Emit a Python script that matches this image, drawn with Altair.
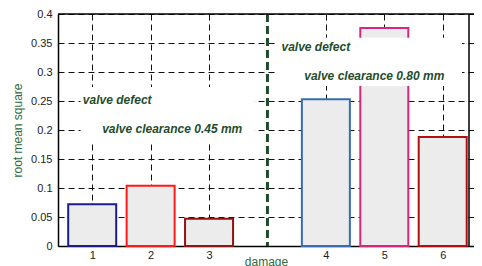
import altair as alt
import pandas as pd

# data
positions = [1, 2, 3, 5, 6, 7]
damage_labels = ["1", "2", "3", "4", "5", "6"]
rms = [0.072, 0.104, 0.047, 0.253, 0.376, 0.188]
stroke_colors = ["#1c1c8c", "#ff1a1a", "#8f1515", "#3a6cb5", "#d8267f", "#b01010"]
separator_pos = [4]
x_domain = [0.5, 7.45]
top_edge = [0.4]
y_ticks = [0, 0.05, 0.1, 0.15, 0.2, 0.25, 0.3, 0.35, 0.4]

ann_text = ["valve defect", "valve clearance  0.45 mm", "valve defect", "valve clearance  0.80 mm"]
ann_x = [0.84, 1.17, 4.24, 4.63]
ann_y = [0.252, 0.202, 0.343, 0.293]

box_x = [0.8, 4.13]
box_x2 = [3.78, 7.33]
box_y = [0.178, 0.276]
box_y2 = [0.274, 0.359]

bars = pd.DataFrame({"pos": positions, "label": damage_labels, "rms": rms, "color": stroke_colors})
sep = pd.DataFrame({"x": separator_pos})
top = pd.DataFrame({"y": top_edge})
right = pd.DataFrame({"x": [x_domain[1]]})
ann = pd.DataFrame({"text": ann_text, "x": ann_x, "y": ann_y})
boxes = pd.DataFrame({"x": box_x, "x2": box_x2, "y": box_y, "y2": box_y2})

green = "#1f4d2c"
xscale = alt.Scale(domain=x_domain, nice=False, zero=False)
yscale = alt.Scale(domain=[0, 0.4], nice=False)

xaxis = alt.Axis(values=positions, labelExpr="datum.value > 4 ? datum.value - 1 : datum.value",
                 title="damage", grid=True, gridDash=[6, 4], gridColor="#111", gridOpacity=1,
                 ticks=False, labelPadding=3, titlePadding=-4, titleColor="#2e6b40",
                 titleFontWeight="normal", titleFontSize=12, labelFontSize=11, labelColor="#222",
                 domainColor="black", domainWidth=1.5, labelOverlap=False)
yaxis = alt.Axis(values=y_ticks, format="~g", title="root mean square", grid=True,
                 gridDash=[6, 4], gridColor="#111", gridOpacity=1, ticks=False, labelPadding=6,
                 titlePadding=6, titleColor="#2e6b40", titleFontWeight="normal", titleFontSize=12,
                 labelFontSize=11, labelColor="#222", domainColor="black", domainWidth=1.5,
                 labelOverlap=False)

X = lambda f: alt.X(f, type="quantitative", scale=xscale, axis=xaxis)
Y = lambda f: alt.Y(f, type="quantitative", scale=yscale, axis=yaxis)

bar_layer = alt.Chart(bars).mark_bar(size=48, fill="#ececec", strokeWidth=2).encode(
    x=X("pos"), y=Y("rms"),
    stroke=alt.Stroke("color:N", scale=None),
)

sep_layer = alt.Chart(sep).mark_rule(color=green, strokeWidth=3, strokeDash=[8, 4]).encode(
    x=X("x"),
)

top_layer = alt.Chart(top).mark_rule(color="black", strokeWidth=1.5).encode(y=Y("y"))

right_layer = alt.Chart(right).mark_rule(color="black", strokeWidth=1.5).encode(x=X("x"))

box_layer = alt.Chart(boxes).mark_rect(fill="white").encode(
    x=X("x"), x2="x2", y=Y("y"), y2="y2"
)

text_layer = alt.Chart(ann).mark_text(align="left", baseline="middle", fontSize=12,
                                      fontWeight="bold", fontStyle="italic", color=green,
                                      font="Liberation Sans").encode(
    x=X("x"), y=Y("y"), text="text:N"
)

chart = alt.layer(bar_layer, sep_layer, top_layer, right_layer, box_layer, text_layer).properties(
    width=416, height=232,
    autosize=alt.AutoSizeParams(type="none"),
    padding={"left": 50, "top": 6, "right": 0, "bottom": 24},
).configure(font="Liberation Sans").configure_view(strokeWidth=0)

chart.save("out.html", embed_options={"renderer": "svg", "actions": False})
